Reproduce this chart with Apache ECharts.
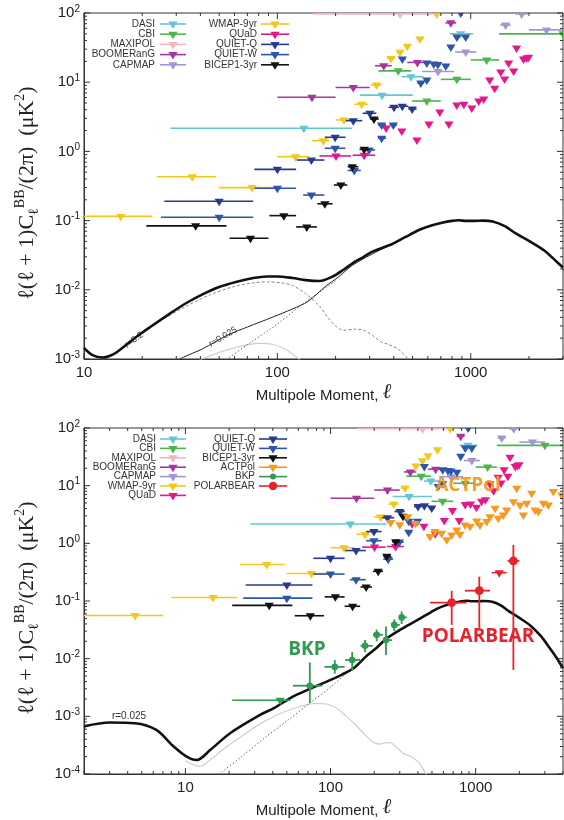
<!DOCTYPE html>
<html>
<head>
<meta charset="utf-8">
<title>BB power spectrum limits</title>
<script src="https://cdn.jsdelivr.net/npm/echarts@6/dist/echarts.min.js"></script>
<style>html,body{margin:0;padding:0;background:#fff;}</style>
</head>
<body>
<div id="main" style="width:564px;height:820px;"></div>
<script>
// upper limits: [ell, value, ellLow, ellHigh]
var DASI = [[137,2.16,28,244],[348,6.5,268,501],[491,12,440,570],[887,50,780,1030]];
var CBI = [[422,14.6,333,491],[593,5.35,497,700],[848,11,700,1000],[1209,21,1000,1400],[3000,50,1400,4000]];
var MAXIPOL = [[431,97,153,635]];
var BOOMERANG = [[151,6.05,100,200],[247,8.4,200,300],[355,17.3,320,390],[530,19.3,470,600],[789,72,740,840]];
var CAPMAP = [[678,14.3,560,820],[942,27.3,830,1070],[1514,67,1420,1610],[1833,97,1700,1980],[2466,57,2000,3000]];
var WMAP9 = [[4.5,0.056,2,7],[15.5,0.115,8,22.6],[36.3,0.43,23.8,48.3],[74,0.30,50,98],[124,0.84,100,146],
  [173,1.43,151,185],[221,2.85,200,244],[273,4.8,250,295],[326,9.1,305,345],[387,22,370,405],
  [430,27,415,445],[470,33,455,485],[546,42,525,565],[668,97,640,700]];
var QUAD = [[201,0.86,165,240],[281,0.88,245,320],[365,2.18,355,375],[440,1.97,428,452],[527,1.46,512,542],
  [608,2.49,592,624],[692,3.7,674,710],[771,2.49,751,791],[847,4.7,825,869],[921,4.8,897,945],
  [1012,4.24,986,1038],[1100,5.35,1072,1128],[1167,5.7,1137,1197],[1253,10.8,1221,1285],[1330,8.2,1296,1364],
  [1429,14,1392,1466],[1497,11.1,1459,1535],[1570,18.9,1530,1610],[1667,14.5,1625,1709],[1726,31.2,1682,1770],
  [1875,21.6,1827,1923],[1944,22.4,1894,1994],[1991,23,1940,2042]];
var QUIETQ = [[50,0.19,26,75],[100,0.55,76,125],[150,0.75,126,175],[199,1.6,176,225],[247,2.78,226,275],
  [301,3.56,276,325],[401,4.34,376,425],[443,4.5,426,475],[498,4.1,476,525]];
var QUIETW = [[50,0.112,25,75],[100,0.293,76,125],[150,0.234,136,175],[199,1.11,176,225],[250,0.53,231,270],
  [298,1.05,281,320],[346,1.55,331,365],[346,2.41,331,365],[398,2.41,381,415],[443,21.6,430,460],
  [552,9.7,530,575],[593,10.8,575,615],[593,18.9,575,615],[644,18.3,625,665],[676,18,655,700],
  [743,17.1,720,770],[789,32.3,765,815],[848,45,820,875],[942,45,910,975],[887,100,860,915]];
var BICEP1 = [[37.8,0.084,21,54.5],[72.6,0.0555,56.6,90],[108,0.118,91,125],[142,0.081,125,160],
  [176,0.175,161,193],[213,0.327,196,230],[244,0.6,231,262],[281,1.07,266,300],[316,2.94,301,335]];
var ACTPOL = [[260,2.3,250,270],[300,2.1,290,310],[340,2.9,330,350],[385,2.2,373,397],[485,1.31,470,500],
  [525,1.6,510,540],[583,1.49,566,600],[632,1.15,614,650],[684,1.4,664,704],[741,1.71,720,762],
  [780,1.44,758,802],[845,2.08,820,870],[915,1.95,888,942],[1017,2.44,987,1047],[1071,2.08,1040,1102],
  [1191,2.38,1156,1226],[1256,2.9,1220,1292],[1361,4.06,1321,1401],[1433,2.72,1391,1475],[1552,3.1,1507,1597],
  [1636,3.79,1588,1684],[1820,5.28,1767,1873],[1919,9.0,1863,1975],[2024,4.63,1965,2083],[2134,3.1,2072,2196],
  [2250,4.95,2184,2316],[2434,7.4,2363,2505],[2566,3.79,2491,2641],[2706,3.55,2627,2785],[2929,4.95,2843,3015],
  [3170,4.63,3077,3263],[3430,7.9,3330,3530],[3917,6.9,3803,4031]];
var BKP_LIMIT = [[45,0.0019,21,53]];
// detections: [ell, value, valueLow, valueHigh, ellLow, ellHigh]
var BKP = [[72,0.0034,0.0017,0.0086,55,88],[107,0.0072,0.0055,0.0095,91,125],[141,0.0095,0.0063,0.013,126,160],
  [173,0.0167,0.013,0.021,161,195],[208,0.026,0.02,0.032,196,230],[241,0.021,0.0116,0.036,231,265],
  [275,0.0385,0.03,0.048,266,300],[309,0.052,0.04,0.066,301,335]];
var POLARBEAR = [[684,0.094,0.0385,0.15,485,867],[1060,0.151,0.0337,0.265,845,1256],[1820,0.495,0.0064,0.94,1660,2000]];
var POLARBEAR_LIMIT = [[1455,0.31,1290,1637]];

// theory curves: [ell, value]
var TOTAL_R02 = [[10,1.45e-3],[11,1.15e-3],[12.5,1.05e-3],[14,1.15e-3],[15.3,1.35e-3],[18.7,2.1e-3],[22,2.9e-3],
  [27.7,4.5e-3],[34,6.5e-3],[41,8.6e-3],[50,0.011],[61,0.013],[75,0.0148],[88,0.0156],[100,0.0156],[120,0.0148],
  [140,0.0138],[165,0.0134],[193,0.0155],[220,0.0195],[244,0.024],[280,0.03],[310,0.0356],[393,0.046],[460,0.058],
  [540,0.073],[620,0.084],[711,0.093],[800,0.099],[868,0.101],[950,0.099],[1050,0.099],[1150,0.1],[1300,0.097],
  [1500,0.083],[1700,0.066],[2000,0.051],[2400,0.037],[2800,0.025],[3000,0.021]];
var TOTAL_R0025 = [[2,6.7e-4],[3,7.8e-4],[4.5,7.6e-4],[6.3,5.8e-4],[8.3,3.0e-4],[10.2,2.0e-4],[12,1.75e-4],
  [14.8,2.6e-4],[20.3,5.1e-4],[32.7,1.06e-3],[41,1.4e-3],[55,2.2e-3],[70,2.9e-3],[94,4.0e-3],[120,5.3e-3],
  [144,6.8e-3],[178,0.0113],[208,0.0155],[244,0.0225],[301,0.0316],[393,0.046],[460,0.058],[540,0.073],
  [620,0.084],[711,0.093],[800,0.099],[868,0.101],[950,0.099],[1050,0.099],[1150,0.1],[1300,0.097],[1500,0.083],
  [1700,0.066],[2000,0.051],[2400,0.037],[2800,0.025],[3200,0.016],[3600,0.0105],[4000,0.0068]];
var LENSING = [[15,7.5e-5],[18,1.1e-4],[25,2.1e-4],[35,4.2e-4],[50,8.3e-4],[72,1.7e-3],[100,3.2e-3],
  [136,6.3e-3],[170,9.8e-3],[200,0.0135]];
var TENSOR_R02 = [[10,1.35e-3],[12.6,1.0e-3],[15,1.3e-3],[19,2.2e-3],[25,3.6e-3],[33,5.6e-3],[45,8.5e-3],
  [60,0.0112],[75,0.0126],[90,0.013],[105,0.0126],[120,0.0115],[140,0.0088],[165,0.0058],[185,0.0038],
  [200,0.003],[220,0.0026],[250,0.0027],[280,0.0026],[310,0.0022],[340,0.0018],[380,0.0016],[420,0.0014],
  [460,0.0011],[490,0.0009]];
var TENSOR_R0025 = [[10,1.7e-4],[12.6,1.35e-4],[15,1.8e-4],[19.3,3e-4],[25,4.7e-4],[32.7,7.4e-4],[45,1.12e-3],
  [60,1.45e-3],[80,1.68e-3],[95,1.62e-3],[110,1.38e-3],[129,1.0e-3],[150,7e-4],[177,4.5e-4],[200,3.5e-4],
  [219,3.3e-4],[240,3.5e-4],[257,3.5e-4],[285,2.9e-4],[317,2.3e-4],[345,2.1e-4],[372,1.9e-4],[414,1.5e-4],
  [450,1.05e-4],[480,8e-5]];

var LEGEND_TOP = [['DASI','CBI','MAXIPOL','BOOMERanG','CAPMAP'],['WMAP-9yr','QUaD','QUIET-Q','QUIET-W','BICEP1-3yr']];
var LEGEND_BOTTOM = [['DASI','CBI','MAXIPOL','BOOMERanG','CAPMAP','WMAP-9yr','QUaD'],
  ['QUIET-Q','QUIET-W','BICEP1-3yr','ACTPol','BKP','POLARBEAR']];

var COLOR = {
  'DASI':'#62c6d6','CBI':'#4db54a','MAXIPOL':'#f5b3c6','BOOMERanG':'#a9359f','CAPMAP':'#a396d4',
  'WMAP-9yr':'#f2c81c','QUaD':'#e3198b','QUIET-Q':'#283a8e','QUIET-W':'#2f55a6','BICEP1-3yr':'#111111',
  'ACTPol':'#f59a22','BKP':'#2f9a52','POLARBEAR':'#e8222c'
};
var LIMITS = [['DASI',DASI],['CBI',CBI],['MAXIPOL',MAXIPOL],['BOOMERanG',BOOMERANG],['CAPMAP',CAPMAP],
  ['WMAP-9yr',WMAP9],['QUaD',QUAD],['QUIET-Q',QUIETQ],['QUIET-W',QUIETW],['BICEP1-3yr',BICEP1]];

var chart = echarts.init(document.getElementById('main'));

function clipRect(params) {
  var cs = params.coordSys;
  return {type:'rect', shape:{x:cs.x, y:cs.y, width:cs.width, height:cs.height}};
}

// horizontal bin bar with a downward triangle (upper limit)
function renderLimit(params, api) {
  var v = api.value(1);
  var c = api.coord([api.value(0), v]);
  var a = api.coord([api.value(2), v]);
  var b = api.coord([api.value(3), v]);
  var col = api.visual('color');
  return {type:'group', clipPath:clipRect(params), children:[
    {type:'line', shape:{x1:a[0], y1:a[1], x2:b[0], y2:b[1]}, style:{stroke:col, lineWidth:1.6}},
    {type:'polygon', shape:{points:[[c[0]-4.6,c[1]-2.5],[c[0]+4.6,c[1]-2.5],[c[0],c[1]+5]]}, style:{fill:col}}
  ]};
}

function pointRenderer(radius) {
  return function (params, api) {
    var x = api.value(0), v = api.value(1);
    var c = api.coord([x, v]);
    var lo = api.coord([x, api.value(2)]), hi = api.coord([x, api.value(3)]);
    var l = api.coord([api.value(4), v]), r = api.coord([api.value(5), v]);
    var col = api.visual('color');
    return {type:'group', clipPath:clipRect(params), children:[
      {type:'line', shape:{x1:lo[0], y1:lo[1], x2:hi[0], y2:hi[1]}, style:{stroke:col, lineWidth:1.8}},
      {type:'line', shape:{x1:l[0], y1:l[1], x2:r[0], y2:r[1]}, style:{stroke:col, lineWidth:1.8}},
      {type:'circle', shape:{cx:c[0], cy:c[1], r:radius}, style:{fill:col}}
    ]};
  };
}

// axis ticks on all four sides of a panel: [value, 1 = x / 2 = y, 1 = minor / 2 = major]
function tickData(xmin, xmax, ymin, ymax) {
  var out = [], d, m, v;
  for (d = -5; d <= 4; d++) {
    for (m = 1; m <= 9; m++) {
      v = m * Math.pow(10, d);
      if (v >= xmin * 0.999 && v <= xmax * 1.001) out.push([v, 1, m === 1 ? 2 : 1]);
      if (v >= ymin * 0.999 && v <= ymax * 1.001) out.push([v, 2, m === 1 ? 2 : 1]);
    }
  }
  return out;
}
function renderTick(params, api) {
  var cs = params.coordSys;
  var v = api.value(0), len = api.value(2) === 2 ? 6 : 3;
  var st = {stroke:'#333', lineWidth:1};
  if (api.value(1) === 1) {
    var x = api.coord([v, 1])[0];
    return {type:'group', children:[
      {type:'line', shape:{x1:x, y1:cs.y + cs.height, x2:x, y2:cs.y + cs.height - len}, style:st},
      {type:'line', shape:{x1:x, y1:cs.y, x2:x, y2:cs.y + len}, style:st}
    ]};
  }
  var y = api.coord([100, v])[1];
  return {type:'group', children:[
    {type:'line', shape:{x1:cs.x, y1:y, x2:cs.x + len, y2:y}, style:st},
    {type:'line', shape:{x1:cs.x + cs.width, y1:y, x2:cs.x + cs.width - len, y2:y}, style:st}
  ]};
}

function powLabel(v) {
  var e = Math.round(Math.log10(v));
  if (Math.abs(v / Math.pow(10, e) - 1) > 1e-6) return '';
  return '{b|10}{s|' + (e < 0 ? '-' + (-e) : e) + '}';
}
function decLabel(v) {
  var e = Math.round(Math.log10(v));
  if (Math.abs(v / Math.pow(10, e) - 1) > 1e-6) return '';
  return String(Math.round(v));
}

var yTitle = '{t|\u2113(\u2113 + 1)C}{sub|\u2113}{sup|BB}{t|/(2\u03c0)  (\u03bcK}{sup|2}{t|)}';
var yTitleStyle = {
  color:'#222',
  padding:[0, 14, 0, 0],
  rich:{
    t:{fontFamily:'Liberation Serif', fontSize:22, lineHeight:28, color:'#222'},
    sup:{fontFamily:'Liberation Serif', fontSize:14, lineHeight:14, verticalAlign:'top', color:'#222'},
    sub:{fontFamily:'Liberation Serif', fontSize:14, lineHeight:14, verticalAlign:'bottom', color:'#222'}
  }
};
var xTitle = '{a|Multipole Moment, }{l|\u2113}';
var xTitleStyle = {
  rich:{
    a:{fontFamily:'Liberation Sans', fontSize:15, color:'#222', lineHeight:22, verticalAlign:'bottom'},
    l:{fontFamily:'Liberation Serif', fontStyle:'italic', fontSize:21, color:'#222', lineHeight:22, verticalAlign:'bottom'}
  }
};
var tickRich = {
  b:{fontFamily:'Liberation Sans', fontSize:15, color:'#222', lineHeight:18},
  s:{fontFamily:'Liberation Sans', fontSize:10, color:'#222', lineHeight:10, verticalAlign:'top'}
};

function xAxisCfg(gi, min, max) {
  return {type:'log', gridIndex:gi, min:min, max:max, logBase:10,
    axisLine:{show:true, lineStyle:{color:'#333'}}, axisTick:{show:false}, splitLine:{show:false},
    axisLabel:{formatter:decLabel, margin:6, fontFamily:'Liberation Sans', fontSize:15, color:'#222',
      showMinLabel:true, showMaxLabel:false},
    name:xTitle, nameLocation:'middle', nameGap:22, nameTextStyle:xTitleStyle};
}
function yAxisCfg(gi, min, max) {
  return {type:'log', gridIndex:gi, min:min, max:max, logBase:10,
    axisLine:{show:true, lineStyle:{color:'#333'}}, axisTick:{show:false}, splitLine:{show:false},
    axisLabel:{formatter:powLabel, margin:4, rich:tickRich},
    name:yTitle, nameLocation:'middle', nameRotate:90, nameGap:43, nameTextStyle:yTitleStyle};
}

function curve(data, gi, style, z) {
  return {type:'line', xAxisIndex:gi, yAxisIndex:gi, data:data, showSymbol:false, smooth:0.3,
    lineStyle:style, z:z || 2, silent:true, animation:false};
}

var series = [];
// top panel curves
series.push(curve(TENSOR_R0025, 0, {color:'#cfcfcf', width:1.2}));
series.push(curve(TENSOR_R02, 0, {color:'#888', width:1, type:[3, 2]}));
series.push(curve(LENSING, 0, {color:'#666', width:1, type:[1.5, 2]}));
series.push(curve(TOTAL_R0025, 0, {color:'#222', width:1}));
series.push(curve(TOTAL_R02, 0, {color:'#111', width:2.6}, 3));
// bottom panel curves
series.push(curve(TENSOR_R0025, 1, {color:'#cfcfcf', width:1.2}));
series.push(curve(LENSING, 1, {color:'#666', width:1, type:[1.5, 2]}));
series.push(curve(TOTAL_R0025, 1, {color:'#111', width:2.6}, 3));

function limitSeries(name, data, gi) {
  return {name:name, type:'custom', xAxisIndex:gi, yAxisIndex:gi, data:data, clip:true,
    itemStyle:{color:COLOR[name]}, renderItem:renderLimit, encode:{x:0, y:1}, z:4, animation:false};
}
LIMITS.forEach(function (p) {
  series.push(limitSeries(p[0], p[1], 0));
  series.push(limitSeries(p[0], p[1], 1));
});
series.push(limitSeries('ACTPol', ACTPOL, 1));
series.push(limitSeries('BKP', BKP_LIMIT, 1));
series.push(limitSeries('POLARBEAR', POLARBEAR_LIMIT, 1));
series.push({name:'BKP', type:'custom', xAxisIndex:1, yAxisIndex:1, data:BKP, clip:true, z:5,
  itemStyle:{color:COLOR['BKP']}, renderItem:pointRenderer(3.3), encode:{x:0, y:1}, animation:false});
series.push({name:'POLARBEAR', type:'custom', xAxisIndex:1, yAxisIndex:1, data:POLARBEAR, clip:true, z:5,
  itemStyle:{color:COLOR['POLARBEAR']}, renderItem:pointRenderer(4.4), encode:{x:0, y:1}, animation:false});
series.push({type:'custom', xAxisIndex:0, yAxisIndex:0, data:tickData(10, 3000, 1e-3, 100),
  renderItem:renderTick, silent:true, z:6, animation:false});
series.push({type:'custom', xAxisIndex:1, yAxisIndex:1, data:tickData(2, 4000, 1e-4, 100),
  renderItem:renderTick, silent:true, z:6, animation:false});

// legend blocks and annotations
var graphics = [];
function legendBlock(cols, textRight, markL, markR, top, step) {
  cols.forEach(function (names, ci) {
    names.forEach(function (name, ri) {
      var y = top + ri * step, col = COLOR[name];
      var tr = textRight[ci], l = markL[ci], r = markR[ci], mx = (l + r) / 2;
      graphics.push({type:'text', x:tr, y:y, silent:true,
        style:{text:name, fill:'#333', font:'10px "Liberation Sans"', align:'right', verticalAlign:'middle'}});
      graphics.push({type:'line', silent:true, shape:{x1:l, y1:y, x2:r, y2:y}, style:{stroke:col, lineWidth:1.6}});
      if (name === 'BKP') {
        graphics.push({type:'circle', silent:true, shape:{cx:mx, cy:y, r:3}, style:{fill:col}});
      } else if (name === 'POLARBEAR') {
        graphics.push({type:'circle', silent:true, shape:{cx:mx, cy:y, r:4.2}, style:{fill:col}});
      } else {
        graphics.push({type:'polygon', silent:true,
          shape:{points:[[mx - 4.6, y - 2.5], [mx + 4.6, y - 2.5], [mx, y + 5]]}, style:{fill:col}});
      }
    });
  });
}
legendBlock(LEGEND_TOP, [155, 257], [160, 261], [186, 289], 24, 10.2);
legendBlock(LEGEND_BOTTOM, [156, 255], [160, 259], [186, 287], 439, 9.4);

graphics.push({type:'text', x:134, y:340, rotation:36 * Math.PI / 180, silent:true,
  style:{text:'r=0.2', fill:'#333', font:'9px "Liberation Sans"', align:'center', verticalAlign:'middle'}});
graphics.push({type:'text', x:223, y:337, rotation:31 * Math.PI / 180, silent:true,
  style:{text:'r=0.025', fill:'#333', font:'9px "Liberation Sans"', align:'center', verticalAlign:'middle'}});
graphics.push({type:'text', x:129, y:716, silent:true,
  style:{text:'r=0.025', fill:'#333', font:'10px "Liberation Sans"', align:'center', verticalAlign:'middle'}});
graphics.push({type:'text', x:307, y:650, silent:true, z:10,
  style:{text:'BKP', fill:'#2f9a52', font:'bold 19px "Open Sans"', align:'center', verticalAlign:'middle'}});
graphics.push({type:'text', x:478, y:637, silent:true, z:10,
  style:{text:'POLARBEAR', fill:'#e8222c', font:'bold 19px "Open Sans"', align:'center', verticalAlign:'middle'}});
graphics.push({type:'text', x:468, y:486, silent:true, z:10,
  style:{text:'ACTPol', fill:'#f39a1e', opacity:0.95, font:'bold 19px "Open Sans"', align:'center', verticalAlign:'middle'}});

chart.setOption({
  backgroundColor:'#fff',
  animation:false,
  grid:[
    {left:84, top:13, width:479, height:346, show:true, borderColor:'#333', borderWidth:1, backgroundColor:'transparent'},
    {left:84, top:428, width:479, height:346, show:true, borderColor:'#333', borderWidth:1, backgroundColor:'transparent'}
  ],
  xAxis:[xAxisCfg(0, 10, 3000), xAxisCfg(1, 2, 4000)],
  yAxis:[yAxisCfg(0, 1e-3, 100), yAxisCfg(1, 1e-4, 100)],
  series:series,
  graphic:{elements:graphics}
});
</script>
</body>
</html>
